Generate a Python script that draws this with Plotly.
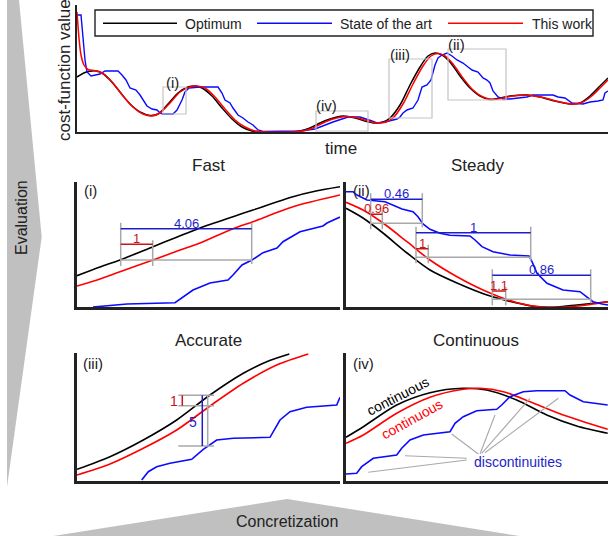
import plotly.graph_objects as go

W, H = 608, 536
FONT = "Liberation Sans, Arial, Helvetica, sans-serif"
BLACK, BLUE, RED = "#000000", "#0a0aff", "#ff0000"
DARK = "#222222"
BOXGRAY = "#c4c4c4"
MGRAY, MBLUE, MRED = "#a8a8a8", "#1e1ec8", "#c81414"
ARROWGRAY = "#c0c0c0"

# ---------------- overview (time, cost-function value) ----------------
main_optimum = [(0, 55), (8, 59.5), (15, 61), (19, 61), (25, 59), (33, 52), (43, 40), (53, 28), (63, 20),
                (73, 16.5), (81, 18), (91, 28), (101, 39), (111, 45), (118, 46), (125, 44), (135, 36),
                (145, 24), (155, 13), (165, 5), (175, 1), (185, 0), (213, 0), (223, 1), (233, 4), (243, 9),
                (253, 13), (266, 16), (278, 14), (288, 11), (298, 9), (306, 10), (313, 14), (323, 27),
                (333, 47), (343, 65), (351, 76), (358, 79), (365, 77), (373, 70), (383, 56), (393, 44),
                (403, 36), (413, 32.5), (423, 34), (433, 36), (450, 37), (463, 35), (478, 31), (493, 28),
                (503, 29), (513, 36), (523, 46), (531, 54)]
main_work = [(0, 120), (2, 94), (4, 77), (7, 67), (11, 62.5), (17, 61.5), (22, 60.5), (28, 57), (36, 49),
             (46, 36), (56, 25), (66, 18), (75, 16), (83, 19), (93, 29), (103, 40), (113, 45), (120, 46),
             (128, 44), (138, 35), (148, 23), (158, 12), (168, 5), (178, 1), (188, 0), (216, 0), (226, 1),
             (236, 4), (246, 9), (256, 13), (269, 15.5), (281, 14), (291, 11), (301, 9), (309, 10),
             (316, 14), (326, 28), (336, 48), (346, 66), (354, 76), (361, 78.5), (368, 76), (376, 68),
             (386, 54), (396, 42), (406, 35), (416, 32.5), (426, 34), (436, 36), (453, 36.5), (466, 34.5),
             (481, 30.5), (496, 28), (506, 30), (516, 37), (526, 47), (531, 52)]
main_sota = [(0, 117), (4, 117), (8, 72), (10, 60), (14, 56), (18, 57), (23, 58), (28, 61), (41, 61),
             (45, 57), (49, 52), (53, 44), (59, 42), (63, 37), (66, 32), (70, 26), (75, 23), (80, 22),
             (83, 19), (86, 18), (96, 18), (100, 22), (105, 32), (108, 40), (112, 44), (123, 45),
             (141, 45), (145, 39), (148, 32), (153, 29), (156, 24), (161, 17), (166, 14), (171, 10),
             (176, 7), (181, 2), (186, 0.5), (223, 1), (238, 3), (243, 5), (250, 8), (256, 10), (265, 13),
             (271, 15), (283, 15), (290, 13), (295, 11), (300, 9), (308, 10), (320, 13), (323, 15),
             (326, 19), (330, 22), (336, 24), (341, 32), (345, 45), (350, 47), (354, 52), (356, 60),
             (358, 67), (361, 74), (365, 77), (370, 79), (375, 76), (380, 72), (386, 69), (391, 65),
             (395, 62), (401, 60), (406, 54), (410, 52), (413, 49), (416, 41), (421, 35), (426, 33),
             (433, 33), (450, 35), (456, 37), (476, 37), (481, 35), (488, 34), (495, 29), (506, 28),
             (513, 30), (521, 31), (526, 32), (528, 39), (531, 41)]
# zoom boxes: label -> (t0, t1, v0, v1), label position (t, v)
main_boxes = {"(i)": ((86, 109, 18, 45), (95.5, 49.5)),
              "(iv)": ((239, 291, 1, 21), (249, 26.5)),
              "(iii)": ((312, 355, 14, 73), (323, 77)),
              "(ii)": ((371, 429, 32, 83), (379.7, 87))}

# ---------------- (i) Fast ----------------
fast_optimum = [(0, 31.3), (23, 40), (43, 47), (76, 60.3), (99, 69.5), (123, 79), (156, 90.3), (176, 97),
                (216, 110.3), (239, 116), (263, 120.3)]
fast_work = [(0, 21), (23, 28), (43, 35.3), (76, 47), (99, 55.5), (123, 64), (156, 78.3), (176, 85.3),
             (216, 100.3), (263, 112)]
fast_sota = [(16, 0), (50, 3), (98, 4.3), (105, 9), (116, 17), (133, 24), (151, 27), (156, 32), (165, 42),
             (175, 47), (186, 54.3), (200, 59), (206, 65.3), (223, 75.3), (246, 81), (250, 84), (263, 90)]
# delay measurements: (x_start, x_work, x_sota, y_base, y_sota_bar, y_work_bar, sota label, work label)
fast_measures = [(43.7, 75.7, 174.7, 47, 78.3, 62.7, "4.06", "1")]

# ---------------- (ii) Steady ----------------
steady_optimum = [(0, 98.7), (17, 89), (37, 74), (61, 54), (84, 37), (111, 24), (141, 12), (171, 4),
                  (191, 0.3), (211, 0), (231, 2), (262, 5.3)]
steady_work = [(0, 104.7), (17, 97), (37, 84), (61, 65.3), (84, 47), (111, 30.3), (141, 15.3), (171, 4.3),
               (197, 0), (224, 0.3), (247, 3), (262, 5.3)]
steady_sota = [(0, 115.3), (7, 115.3), (11, 112), (21, 107), (39, 105.3), (46, 102), (56, 98), (67, 95.3),
               (72, 90.3), (77, 83), (84, 77.7), (94, 73.7), (104, 71.7), (124, 71), (129, 67), (136, 60.3),
               (147, 55.3), (164, 52), (183, 51), (186, 45.3), (191, 33.7), (201, 23.7), (217, 17),
               (234, 15.3), (241, 10.3), (247, 5.3), (256, 3), (262, 2)]
steady_measures = [(24.7, 36.3, 76.3, 83.7, 107.7, 92.7, "0.46", "0.96"),
                   (70, 82.3, 184.7, 49.7, 74.3, 58.3, "1", "1"),
                   (146.3, 159.7, 244.7, 7.7, 31.7, 16, "0.86", "1.1")]

# ---------------- (iii) Accurate ----------------
acc_optimum = [(0, 11.7), (33, 24.3), (66.3, 41), (99.7, 61), (133, 86), (166.3, 107.7), (189.7, 119.3),
               (212.3, 127)]
acc_work = [(0, 6), (33, 17), (66.3, 32.7), (99.7, 51), (133, 75), (166.3, 97.7), (199.7, 116), (231.3, 127)]
acc_sota = [(64.7, 1), (71.3, 9.3), (79.7, 14.3), (93, 17.7), (114.7, 21.7), (119.7, 26), (126.3, 31.7),
            (139.7, 41), (156.3, 42.7), (193, 43.7), (196.3, 49.3), (203, 61), (213, 69.3), (229.7, 73.7),
            (259.7, 76), (263, 83.7)]
# error measurement: x range of guides, x gauge, x sota bar, x work bar, y optimum, y work, y sota
acc_measure = (101.3, 137, 130.7, 125.3, 105.3, 85.7, 75.3, 35, "5", "1")

# ---------------- (iv) Continuous ----------------
cont_optimum = [(0, 43.7), (17.3, 54.3), (50.7, 76), (84, 88.3), (117.3, 92.7), (140.7, 91), (170.7, 81),
                (200.7, 66), (230.7, 55), (261.7, 47.7)]
cont_work = [(0, 37.7), (17.3, 46), (50.7, 67.7), (84, 83.7), (117.3, 91.7), (134, 92.7), (157.3, 89.3),
             (184, 79.3), (217.3, 66), (261.7, 51.7)]
cont_sota = [(0, 7), (10.7, 7.7), (15.7, 14.3), (27.3, 22.7), (50.7, 26), (55.7, 32.7), (64, 41), (77.3, 46),
             (104, 49.3), (109, 57.7), (117.3, 64.3), (130.7, 70.3), (150.7, 71.7), (155.7, 76), (164, 84.3),
             (177.3, 89.3), (190.7, 90.3), (219, 90.3), (224, 86), (237.3, 79.3), (261.7, 76)]
cont_pointers = [((22.3, 8.7), (120.7, 21)), ((59, 25.3), (120.7, 22.7)), ((105.7, 47), (132.3, 27)),
                 ((149, 66), (134, 27)), ((184, 82.7), (135.7, 27.7)), ((212.3, 82.7), (139, 28.3))]

# ---------------- layout helpers ----------------
def xd(p):
    return p / W


def yd(p):
    return 1 - p / H


fig = go.Figure()

panels = {
    "": dict(xdom=(77, 608), ydom=(5, 132), xr=(0, 531), yr=(0, 127), lw=2),
    "2": dict(xdom=(77, 340), ydom=(181.7, 307), xr=(0, 263), yr=(0, 125.3), lw=2.6),
    "3": dict(xdom=(346, 608), ydom=(181.7, 307), xr=(0, 262), yr=(0, 125.3), lw=2.6),
    "4": dict(xdom=(77, 340), ydom=(353, 481), xr=(0, 263), yr=(0, 128), lw=2.6),
    "5": dict(xdom=(346, 608), ydom=(353, 481), xr=(0, 262), yr=(0, 128), lw=2.6),
}
layout_axes = {}
for k, p in panels.items():
    common = dict(showgrid=False, zeroline=False, showticklabels=False, ticks="", showline=True,
                  linecolor=DARK, linewidth=p["lw"], fixedrange=True)
    layout_axes["xaxis" + k] = dict(domain=[xd(p["xdom"][0]), xd(p["xdom"][1])], range=list(p["xr"]),
                                    anchor="y" + k, **common)
    layout_axes["yaxis" + k] = dict(domain=[yd(p["ydom"][1]), yd(p["ydom"][0])], range=list(p["yr"]),
                                    anchor="x" + k, **common)


def add_curve(pts, color, k, shape="spline", width=1.6):
    fig.add_trace(go.Scatter(x=[a for a, _ in pts], y=[b for _, b in pts], mode="lines",
                             line=dict(color=color, width=width, shape=shape, smoothing=0.8),
                             xaxis="x" + k, yaxis="y" + k, showlegend=False, hoverinfo="skip"))


shapes, annotations = [], []


def seg(k, x0, y0, x1, y1, color, width=1.5):
    shapes.append(dict(type="line", xref="x" + k, yref="y" + k, x0=x0, y0=y0, x1=x1, y1=y1,
                       line=dict(color=color, width=width)))


def label(k, x, y, text, color=DARK, size=13, angle=0, **kw):
    annotations.append(dict(xref="x" + k, yref="y" + k, x=x, y=y, text=text, showarrow=False,
                            textangle=angle, font=dict(family=FONT, size=size, color=color), **kw))


def paper_text(xp, yp, text, size=17, angle=0):
    annotations.append(dict(xref="paper", yref="paper", x=xd(xp), y=yd(yp), text=text, showarrow=False,
                            textangle=angle, xanchor="center", yanchor="middle",
                            font=dict(family=FONT, size=size, color=DARK)))


# background arrows
shapes.append(dict(type="path", xref="paper", yref="paper", layer="below",
                   path=f"M {xd(7)},{yd(0)} L {xd(19)},{yd(0)} L {xd(41.7)},{yd(237)} L {xd(7)},{yd(487)} Z",
                   fillcolor=ARROWGRAY, line=dict(width=0)))
shapes.append(dict(type="path", xref="paper", yref="paper", layer="below",
                   path=f"M {xd(47)},{yd(537)} L {xd(287)},{yd(499)} L {xd(526)},{yd(537)} Z",
                   fillcolor=ARROWGRAY, line=dict(width=0)))
paper_text(21, 218, "Evaluation", size=16, angle=-90)
paper_text(287, 521.5, "Concretization", size=16)

# overview
add_curve(main_optimum, BLACK, "", width=1.5)
add_curve(main_sota, BLUE, "", shape="linear", width=1.4)
add_curve(main_work, RED, "", width=1.5)
for name, ((t0, t1, v0, v1), (lt, lv)) in main_boxes.items():
    shapes.append(dict(type="rect", xref="x", yref="y", x0=t0, x1=t1, y0=v0, y1=v1,
                       line=dict(color=BOXGRAY, width=1.2)))
    label("", lt, lv, name, size=15)
paper_text(64, 70, "cost-function value", size=17, angle=-90)
paper_text(340.7, 148.5, "time", size=17)

# legend
shapes.append(dict(type="rect", xref="paper", yref="paper", x0=xd(95), x1=xd(593), y0=yd(36), y1=yd(10),
                   line=dict(color=DARK, width=1.4), fillcolor="white"))
for (l0, l1, tx, txt, col) in [(103, 177, 183, "Optimum", BLACK), (257, 332, 338, "State of the art", BLUE),
                               (448, 523, 530, "This work", RED)]:
    shapes.append(dict(type="line", xref="paper", yref="paper", x0=xd(l0), x1=xd(l1), y0=yd(23.3),
                       y1=yd(23.3), line=dict(color=col, width=1.5)))
    annotations.append(dict(xref="paper", yref="paper", x=xd(tx), y=yd(23.5), text=txt, showarrow=False,
                            xanchor="left", yanchor="middle", font=dict(family=FONT, size=14, color=DARK)))

# titles
paper_text(208, 166, "Fast")
paper_text(477, 166, "Steady")
paper_text(208, 340, "Accurate")
paper_text(476, 340, "Continuous")

# (i) Fast
add_curve(fast_optimum, BLACK, "2")
add_curve(fast_work, RED, "2")
add_curve(fast_sota, BLUE, "2", shape="linear")
label("2", 13, 117, "(i)", size=15)


def delay_marks(k, m, tick=6):
    x0, xw, xs, yb, ysb, ywb, ls, lw_ = m
    seg(k, x0, yb, xs, yb, MGRAY)
    seg(k, x0, yb - tick, x0, ysb + tick, MGRAY)
    seg(k, xw, yb - tick, xw, ywb + 4, MGRAY)
    seg(k, xs, yb - tick + 2, xs, ysb + tick, MGRAY)
    seg(k, x0, ysb, xs, ysb, MBLUE)
    seg(k, x0, ywb, xw, ywb, MRED)
    label(k, (x0 + xs) / 2, ysb, ls, color=MBLUE, yanchor="bottom", yshift=-4)
    label(k, (x0 + xw) / 2, ywb, lw_, color=MRED, yanchor="bottom", yshift=-4)


for m in fast_measures:
    delay_marks("2", m)

# (ii) Steady
add_curve(steady_optimum, BLACK, "3")
add_curve(steady_work, RED, "3")
add_curve(steady_sota, BLUE, "3", shape="linear")
label("3", 15.7, 117, "(ii)", size=15)
for m in steady_measures:
    delay_marks("3", m)

# (iii) Accurate
add_curve(acc_optimum, BLACK, "4")
add_curve(acc_work, RED, "4")
add_curve(acc_sota, BLUE, "4", shape="linear")
label("4", 16.3, 117.7, "(iii)", size=15)
gx0, gx1, xg, xsb, xwb, yo, yw, ys, ls, lw_ = acc_measure
for yy in (yo, yw, ys):
    seg("4", gx0, yy, gx1, yy, MGRAY)
seg("4", xg, ys, xg, yo, MGRAY)
seg("4", xsb, ys, xsb, yo, MBLUE)
seg("4", xwb, yw, xwb, yo, MRED)
label("4", xsb - 9, (ys + yw) / 2 + 4, ls, color=MBLUE, size=14)
label("4", xwb - 8, (yw + yo) / 2, lw_, color=MRED, size=14)

# (iv) Continuous
add_curve(cont_optimum, BLACK, "5")
add_curve(cont_work, RED, "5")
add_curve(cont_sota, BLUE, "5", shape="linear")
label("5", 17.3, 117.7, "(iv)", size=15)
for (a, b) in cont_pointers:
    seg("5", a[0], a[1], b[0], b[1], MGRAY, width=1.1)
label("5", 172, 19.5, "discontinuities", color=MBLUE, size=14)
label("5", 52, 85, "continuous", color=BLACK, size=14, angle=-27)
label("5", 66, 62, "continuous", color=RED, size=14, angle=-29)

fig.update_layout(width=W, height=H, margin=dict(l=0, r=0, t=0, b=0), paper_bgcolor="white",
                  plot_bgcolor="rgba(0,0,0,0)", showlegend=False, shapes=shapes, annotations=annotations,
                  font=dict(family=FONT, color=DARK), **layout_axes)
fig.write_html("out.html", config={"displayModeBar": False, "staticPlot": True},
               post_script="document.body.style.margin='0';document.body.style.overflow='hidden';")
